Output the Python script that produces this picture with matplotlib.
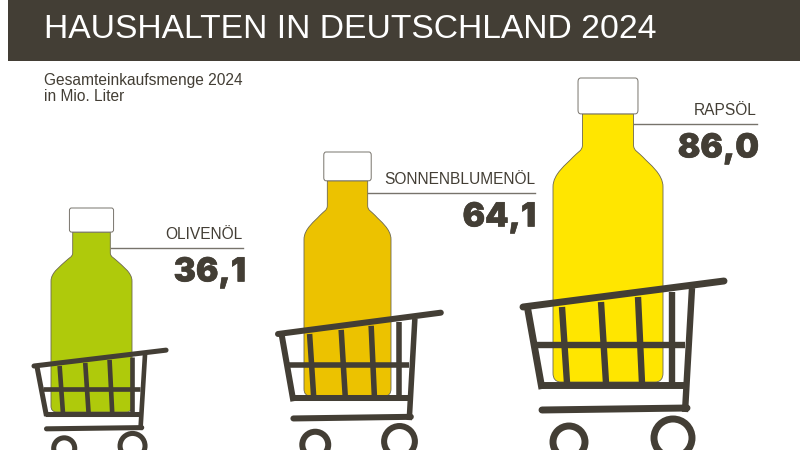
import matplotlib
matplotlib.use("Agg")
import matplotlib.pyplot as plt
from matplotlib.path import Path
from matplotlib.patches import PathPatch, Rectangle, Circle
import matplotlib.patheffects as pe

# data
products = ["OLIVENÖL", "SONNENBLUMENÖL", "RAPSÖL"]
values = [36.1, 64.1, 86.0]
oil_colors = ["#afca0b", "#ecc200", "#ffe600"]

title = "HAUSHALTEN IN DEUTSCHLAND 2024"
subtitle = "Gesamteinkaufsmenge 2024\nin Mio. Liter"

dark = "#433e35"

# layout in reference pixels
bottle_center = [91.5, 347.5, 608]
bottle_halfwidth = [40.5, 43.5, 55]
bottle_top = [208, 152, 78]
bottle_bottom = [412, 396, 382]

cart_origin = [(34, 366), (278, 334), (523, 307)]
cart_scale = [(0.657, 0.61), (0.81, 0.82), (1, 1)]

line_x0 = [111, 368, 634]
line_x1 = [243, 535, 757]
line_y = [248, 193, 124]
value_x = [246, 536, 759]


def bottle_path(cx, hw, top, bottom):
    h = bottom - top
    pts = [(-0.464, 0.118), (0.464, 0.118), (0.464, 0.22),
           (0.464, 0.24), (0.56, 0.245), (0.64, 0.261),
           (0.75, 0.283), (1.0, 0.315), (1.0, 0.358),
           (1.0, 0.97), (1.0, 0.99), (0.95, 1.0), (0.85, 1.0),
           (-0.85, 1.0), (-0.95, 1.0), (-1.0, 0.99), (-1.0, 0.97),
           (-1.0, 0.358), (-1.0, 0.315), (-0.75, 0.283), (-0.64, 0.261),
           (-0.56, 0.245), (-0.464, 0.24), (-0.464, 0.22), (-0.464, 0.118)]
    codes = [Path.MOVETO, Path.LINETO, Path.LINETO,
             Path.CURVE4, Path.CURVE4, Path.CURVE4,
             Path.CURVE4, Path.CURVE4, Path.CURVE4,
             Path.LINETO, Path.CURVE4, Path.CURVE4, Path.CURVE4,
             Path.LINETO, Path.CURVE4, Path.CURVE4, Path.CURVE4,
             Path.LINETO, Path.CURVE4, Path.CURVE4, Path.CURVE4,
             Path.CURVE4, Path.CURVE4, Path.CURVE4, Path.LINETO]
    return Path([(cx + u * hw, top + v * h) for u, v in pts], codes)


def cap_path(cx, hw, top, bottom):
    h = bottom - top
    w = 0.545
    r = 0.05
    rv = 0.012
    cap_h = 0.118
    pts = [(-w, rv), (-w, 0), (-w + r, 0), (w - r, 0), (w, 0), (w, rv),
           (w, cap_h - rv), (w, cap_h), (w - r, cap_h),
           (-w + r, cap_h), (-w, cap_h), (-w, cap_h - rv), (-w, rv)]
    codes = [Path.MOVETO, Path.CURVE3, Path.CURVE3, Path.LINETO, Path.CURVE3, Path.CURVE3,
             Path.LINETO, Path.CURVE3, Path.CURVE3,
             Path.LINETO, Path.CURVE3, Path.CURVE3, Path.LINETO]
    return Path([(cx + u * hw, top + v * h) for u, v in pts], codes)


def draw_cart(ax, origin, scale):
    ox, oy = origin
    sx, sy = scale
    lw = 5.0 * ((sx + sy) / 2) ** 0.7

    def seg(x0, y0, x1, y1, width=lw, cap="butt"):
        ax.plot([ox + x0 * sx, ox + x1 * sx], [oy + y0 * sy, oy + y1 * sy],
                color=dark, lw=width, solid_capstyle=cap, zorder=4)

    thin = lw * 0.92
    seg(0, 0, 201, -26, cap="round")     # top rail and handle
    seg(4, -2, 19, 82)                   # left side
    seg(17, 78, 162, 78)                 # basket floor
    seg(169, -19, 162, 105, width=thin)  # right post
    seg(19, 103, 164, 101, cap="round")  # lower bar
    seg(14, 38, 162, 38, width=thin)     # middle bar
    seg(39, 0, 44, 76, width=thin)
    seg(78, -5, 83, 76, width=thin)
    seg(115, -10, 119, 76, width=thin)
    seg(149, -15, 149, 76, width=thin)

    for wx, wy, r in [(46, 135, 16), (150, 131, 19)]:
        ax.add_patch(Circle((ox + wx * sx, oy + wy * sy), r * sx, fill=False,
                            edgecolor=dark, lw=lw, zorder=4))


fig = plt.figure(figsize=(8, 4.5), dpi=100)
ax = fig.add_axes([0, 0, 1, 1])
ax.set_xlim(0, 800)
ax.set_ylim(450, 0)
ax.axis("off")

ax.add_patch(Rectangle((8, 0), 792, 61, facecolor=dark, edgecolor="none"))
ax.text(44, 29, title, color="white", fontsize=24.2, family="Liberation Sans",
        va="center", ha="left")
ax.text(44, 88.5, subtitle, color=dark, fontsize=11.2, family="Liberation Sans",
        va="center", ha="left", linespacing=1.1)

for i, name in enumerate(products):
    ax.add_patch(PathPatch(bottle_path(bottle_center[i], bottle_halfwidth[i], bottle_top[i], bottle_bottom[i]),
                           facecolor=oil_colors[i], edgecolor="#6b6650", lw=0.6, zorder=2))
    ax.add_patch(PathPatch(cap_path(bottle_center[i], bottle_halfwidth[i], bottle_top[i], bottle_bottom[i]),
                           facecolor="white", edgecolor="#77736b", lw=0.7, zorder=3))
    draw_cart(ax, cart_origin[i], cart_scale[i])

    ax.plot([line_x0[i], line_x1[i]], [line_y[i], line_y[i]], color="#77736b", lw=1.0, zorder=1)
    ax.text(line_x1[i], line_y[i] - 6, name, color=dark, fontsize=11.2, family="Liberation Sans",
            ha="right", va="bottom")
    ax.text(value_x[i], line_y[i] + 24.5, f"{values[i]:.1f}".replace(".", ","), color=dark,
            fontsize=24, family="Inter", weight="black", ha="right", va="center",
            path_effects=[pe.withStroke(linewidth=0.4, foreground=dark)])

fig.savefig("out.png", dpi=100)
